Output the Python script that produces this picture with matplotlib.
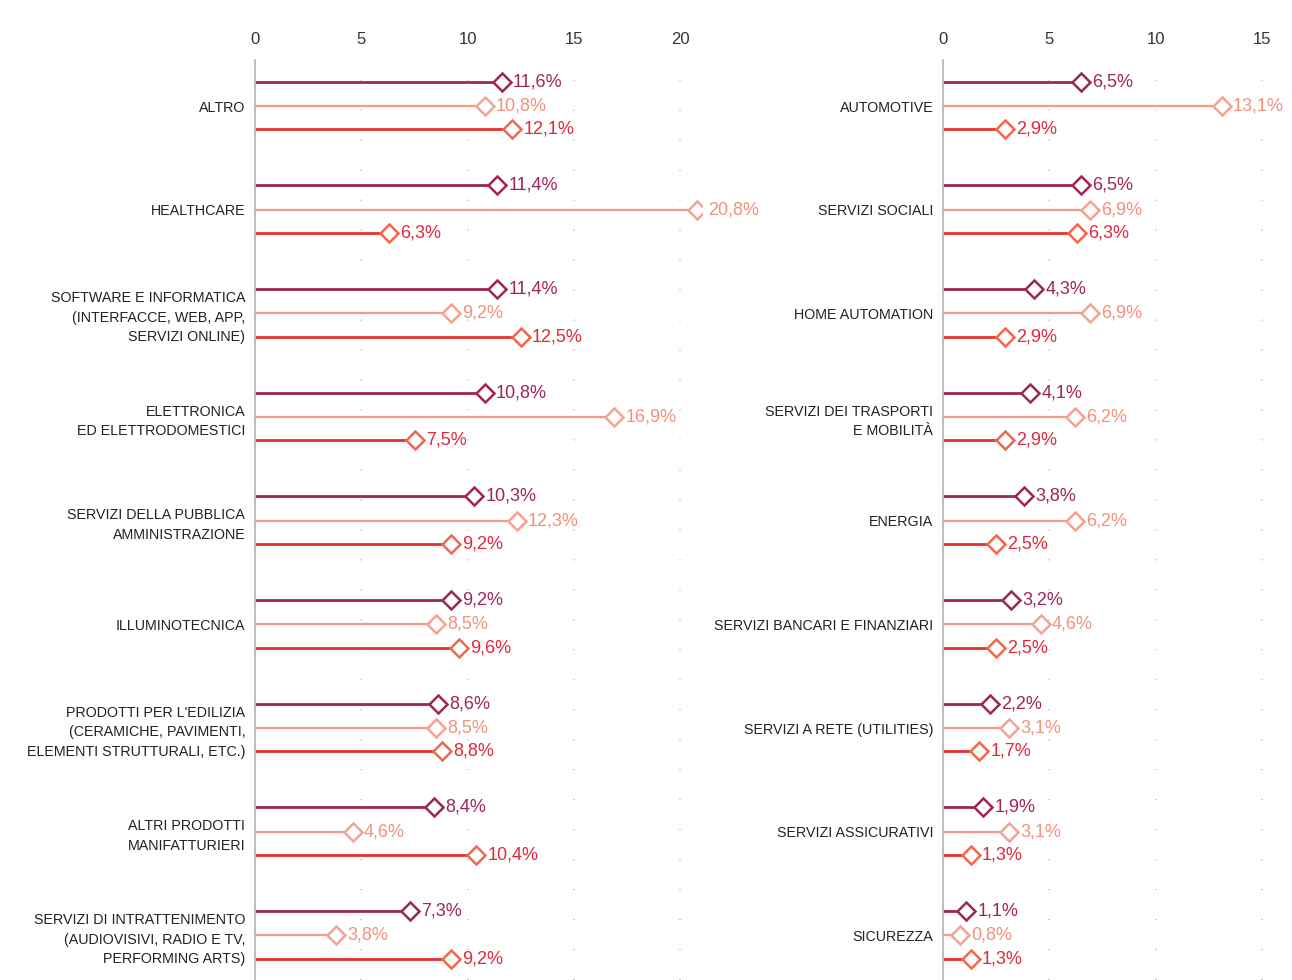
import matplotlib.pyplot as plt
import numpy as np

plt.rcParams['font.family'] = ['Liberation Sans', 'DejaVu Sans']

# left panel
cats_left = ["ALTRO", "HEALTHCARE",
             "SOFTWARE E INFORMATICA\n(INTERFACCE, WEB, APP,\nSERVIZI ONLINE)",
             "ELETTRONICA\nED ELETTRODOMESTICI",
             "SERVIZI DELLA PUBBLICA\nAMMINISTRAZIONE",
             "ILLUMINOTECNICA",
             "PRODOTTI PER L'EDILIZIA\n(CERAMICHE, PAVIMENTI,\nELEMENTI STRUTTURALI, ETC.)",
             "ALTRI PRODOTTI\nMANIFATTURIERI",
             "SERVIZI DI INTRATTENIMENTO\n(AUDIOVISIVI, RADIO E TV,\nPERFORMING ARTS)"]
left_a = [11.6, 11.4, 11.4, 10.8, 10.3, 9.2, 8.6, 8.4, 7.3]
left_b = [10.8, 20.8, 9.2, 16.9, 12.3, 8.5, 8.5, 4.6, 3.8]
left_c = [12.1, 6.3, 12.5, 7.5, 9.2, 9.6, 8.8, 10.4, 9.2]

# right panel
cats_right = ["AUTOMOTIVE", "SERVIZI SOCIALI", "HOME AUTOMATION",
              "SERVIZI DEI TRASPORTI\nE MOBILITÀ", "ENERGIA",
              "SERVIZI BANCARI E FINANZIARI", "SERVIZI A RETE (UTILITIES)",
              "SERVIZI ASSICURATIVI", "SICUREZZA"]
right_a = [6.5, 6.5, 4.3, 4.1, 3.8, 3.2, 2.2, 1.9, 1.1]
right_b = [13.1, 6.9, 6.9, 6.2, 6.2, 4.6, 3.1, 3.1, 0.8]
right_c = [2.9, 6.3, 2.9, 2.9, 2.5, 2.5, 1.7, 1.3, 1.3]

# (line colour, marker edge, text colour, line width)
styles = [("#9e2655", "#9e2655", "#a0245a", 2.0),
          ("#f59a88", "#f5a391", "#f3907c", 1.6),
          ("#e5322f", "#ee6a4e", "#e0283a", 2.0)]
offsets = [-0.235, 0.0, 0.225]


def fmt(v):
    return ("%.1f%%" % v).replace(".", ",")


def draw_panel(ax, cats, series, xmax, ticks):
    y = np.arange(len(cats))
    for vals, off, (lc, mc, tc, lw) in zip(series, offsets, styles):
        for yi, v in zip(y, vals):
            ax.plot([0, v], [yi + off, yi + off], color=lc, lw=lw,
                    solid_capstyle="butt", zorder=2)
            ax.plot(v, yi + off, marker="D", ms=9, mfc="white", mec=mc,
                    mew=1.8, zorder=3)
            ax.annotate(fmt(v), (v, yi + off), xytext=(8, 0),
                        textcoords="offset points", va="center", ha="left",
                        fontsize=13, color=tc, annotation_clip=False)
    ax.set_xlim(0, xmax)
    ax.set_ylim(len(cats) - 1 + 0.43, -0.444)
    ax.set_xticks(ticks)
    ax.xaxis.tick_top()
    ax.tick_params(axis="x", length=0, pad=9, labelsize=12,
                   labelcolor="#333333")
    ax.set_yticks(y)
    ax.set_yticklabels(cats, fontsize=10.3, color="#222222",
                       linespacing=1.5)
    ax.tick_params(axis="y", length=0, pad=7)
    for s in ["top", "right", "bottom"]:
        ax.spines[s].set_visible(False)
    ax.spines["left"].set_color("#b5b5b5")
    ax.spines["left"].set_linewidth(1.2)
    for t in ticks[1:]:
        ax.axvline(t, color="#c4c4c4", lw=1.3, ls=(0, (0.6, 16)), zorder=0)


fig = plt.figure(figsize=(12.92, 9.80), dpi=100)
ax1 = fig.add_axes([255 / 1292, 0, 21 * 21.27 / 1292, 920 / 980])
ax2 = fig.add_axes([943 / 1292, 0, 16 * 21.27 / 1292, 920 / 980])
draw_panel(ax1, cats_left, [left_a, left_b, left_c], 21, [0, 5, 10, 15, 20])
draw_panel(ax2, cats_right, [right_a, right_b, right_c], 16, [0, 5, 10, 15])

fig.savefig("out.png", dpi=100, facecolor="white")
